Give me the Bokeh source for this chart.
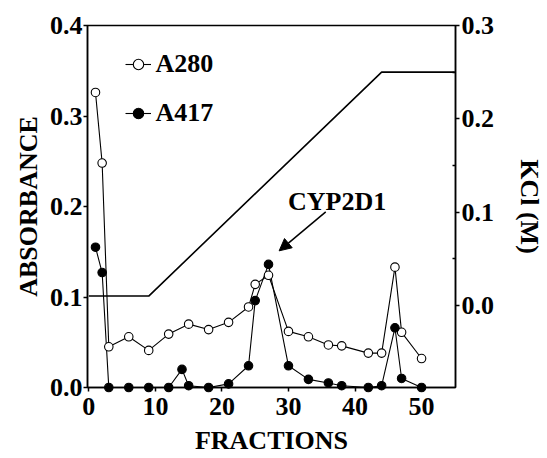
from bokeh.plotting import figure
from bokeh.models import (Range1d, LinearAxis, FixedTicker, PrintfTickFormatter,
                          Legend, LegendItem, Arrow, NormalHead, Label)
from bokeh.embed import file_html
from bokeh.resources import INLINE

# ---- data ----
a280_frac = [1, 2, 3, 6, 9, 12, 15, 18, 21, 24, 25, 27, 30, 33, 36, 38, 42, 44, 46, 47, 50]
a280_abs = [0.326, 0.248, 0.045, 0.056, 0.041, 0.059, 0.070, 0.064, 0.072, 0.089, 0.114,
            0.124, 0.062, 0.056, 0.047, 0.046, 0.038, 0.038, 0.133, 0.061, 0.032]
a417_frac = [1, 2, 3, 6, 9, 12, 14, 15, 18, 21, 24, 25, 27, 30, 33, 36, 38, 42, 44, 46, 47, 50]
a417_abs = [0.155, 0.127, 0.0, 0.0, 0.0, 0.0, 0.020, 0.002, 0.0, 0.004, 0.024, 0.096,
            0.136, 0.024, 0.009, 0.005, 0.002, 0.0, 0.002, 0.066, 0.010, 0.0]
kcl_frac = [0, 9, 44, 55]
kcl_conc = [0.01, 0.01, 0.25, 0.25]

x_ticks = [0, 10, 20, 30, 40, 50]
abs_ticks = [0.0, 0.1, 0.2, 0.3, 0.4]
kcl_ticks = [0.0, 0.1, 0.2, 0.3]
kcl_minor_ticks = [0.05, 0.15, 0.25]

x_title = "FRACTIONS"
y_title = "ABSORBANCE"
y2_title = "KCl (M)"

annot_text = "CYP2D1"
annot_text_pos = (37.3, 0.205)
arrow_start = (35.6, 0.194)
arrow_end = (28.6, 0.151)

FONT = "Liberation Serif"
FS = "26px"

p = figure(width=547, height=458, output_backend="svg", toolbar_location=None,
           x_range=Range1d(-0.2, 55.1), y_range=Range1d(0, 0.4),
           min_border_left=87, min_border_right=91, min_border_top=25, min_border_bottom=71)
p.extra_y_ranges = {"kcl": Range1d(-0.088, 0.3)}
p.grid.visible = False
p.outline_line_color = "black"
p.outline_line_width = 1.5
p.background_fill_color = "white"
p.border_fill_color = "white"


def style_axis(ax):
    ax.axis_line_width = 1.5
    ax.axis_line_color = "black"
    ax.major_tick_line_color = "black"
    ax.major_tick_line_width = 1.5
    ax.major_tick_in = 0
    ax.major_tick_out = 4
    ax.minor_tick_line_color = None
    ax.major_label_text_font = FONT
    ax.major_label_text_font_style = "bold"
    ax.major_label_text_font_size = FS
    ax.major_label_text_color = "black"
    ax.axis_label_text_font = FONT
    ax.axis_label_text_font_style = "bold"
    ax.axis_label_text_font_size = FS
    ax.axis_label_text_color = "black"


xa = p.xaxis[0]
style_axis(xa)
xa.ticker = FixedTicker(ticks=x_ticks)
xa.axis_label = x_title
xa.major_label_standoff = 6
xa.axis_label_standoff = 8

ya = p.yaxis[0]
style_axis(ya)
ya.ticker = FixedTicker(ticks=abs_ticks)
ya.formatter = PrintfTickFormatter(format="%.1f")
ya.axis_label = y_title
ya.major_label_standoff = 1
ya.axis_label_standoff = 4

ra = LinearAxis(y_range_name="kcl", axis_label=y2_title)
style_axis(ra)
ra.ticker = FixedTicker(ticks=kcl_ticks, minor_ticks=kcl_minor_ticks)
ra.formatter = PrintfTickFormatter(format="%.1f")
ra.minor_tick_line_color = "black"
ra.minor_tick_line_width = 1.5
ra.minor_tick_in = 3
ra.minor_tick_out = 0
ra.major_label_standoff = 2
ra.axis_label_standoff = 18
p.add_layout(ra, "right")

# KCl gradient
p.line(kcl_frac, kcl_conc, y_range_name="kcl", line_color="black", line_width=1.6)

# A280 (open) and A417 (filled)
l280 = p.line(a280_frac, a280_abs, line_color="black", line_width=1.1)
s280 = p.scatter(a280_frac, a280_abs, size=8.5, marker="circle", fill_color="white",
                 line_color="black", line_width=1.1, level="overlay")
l417 = p.line(a417_frac, a417_abs, line_color="black", line_width=1.1)
s417 = p.scatter(a417_frac, a417_abs, size=8.5, marker="circle", fill_color="black",
                 line_color="black", line_width=1.1, level="overlay")

legend = Legend(items=[LegendItem(label="A280", renderers=[l280, s280]),
                       LegendItem(label="A417", renderers=[l417, s417])],
                location=(37.6, 259), margin=0, padding=0, spacing=19,
                glyph_width=26, glyph_height=28, label_height=28, label_standoff=5,
                label_text_font=FONT, label_text_font_style="bold",
                label_text_font_size=FS, label_text_color="black",
                border_line_color=None, background_fill_alpha=0)
p.add_layout(legend)

p.add_layout(Arrow(x_start=arrow_start[0], y_start=arrow_start[1],
                   x_end=arrow_end[0], y_end=arrow_end[1], line_width=1.5,
                   end=NormalHead(size=12, fill_color="black", line_color="black")))
p.add_layout(Label(x=annot_text_pos[0], y=annot_text_pos[1], text=annot_text,
                   text_align="center", text_baseline="alphabetic",
                   text_font=FONT, text_font_style="bold", text_font_size=FS,
                   text_color="black"))

open("out.html", "w").write(file_html(p, INLINE))
